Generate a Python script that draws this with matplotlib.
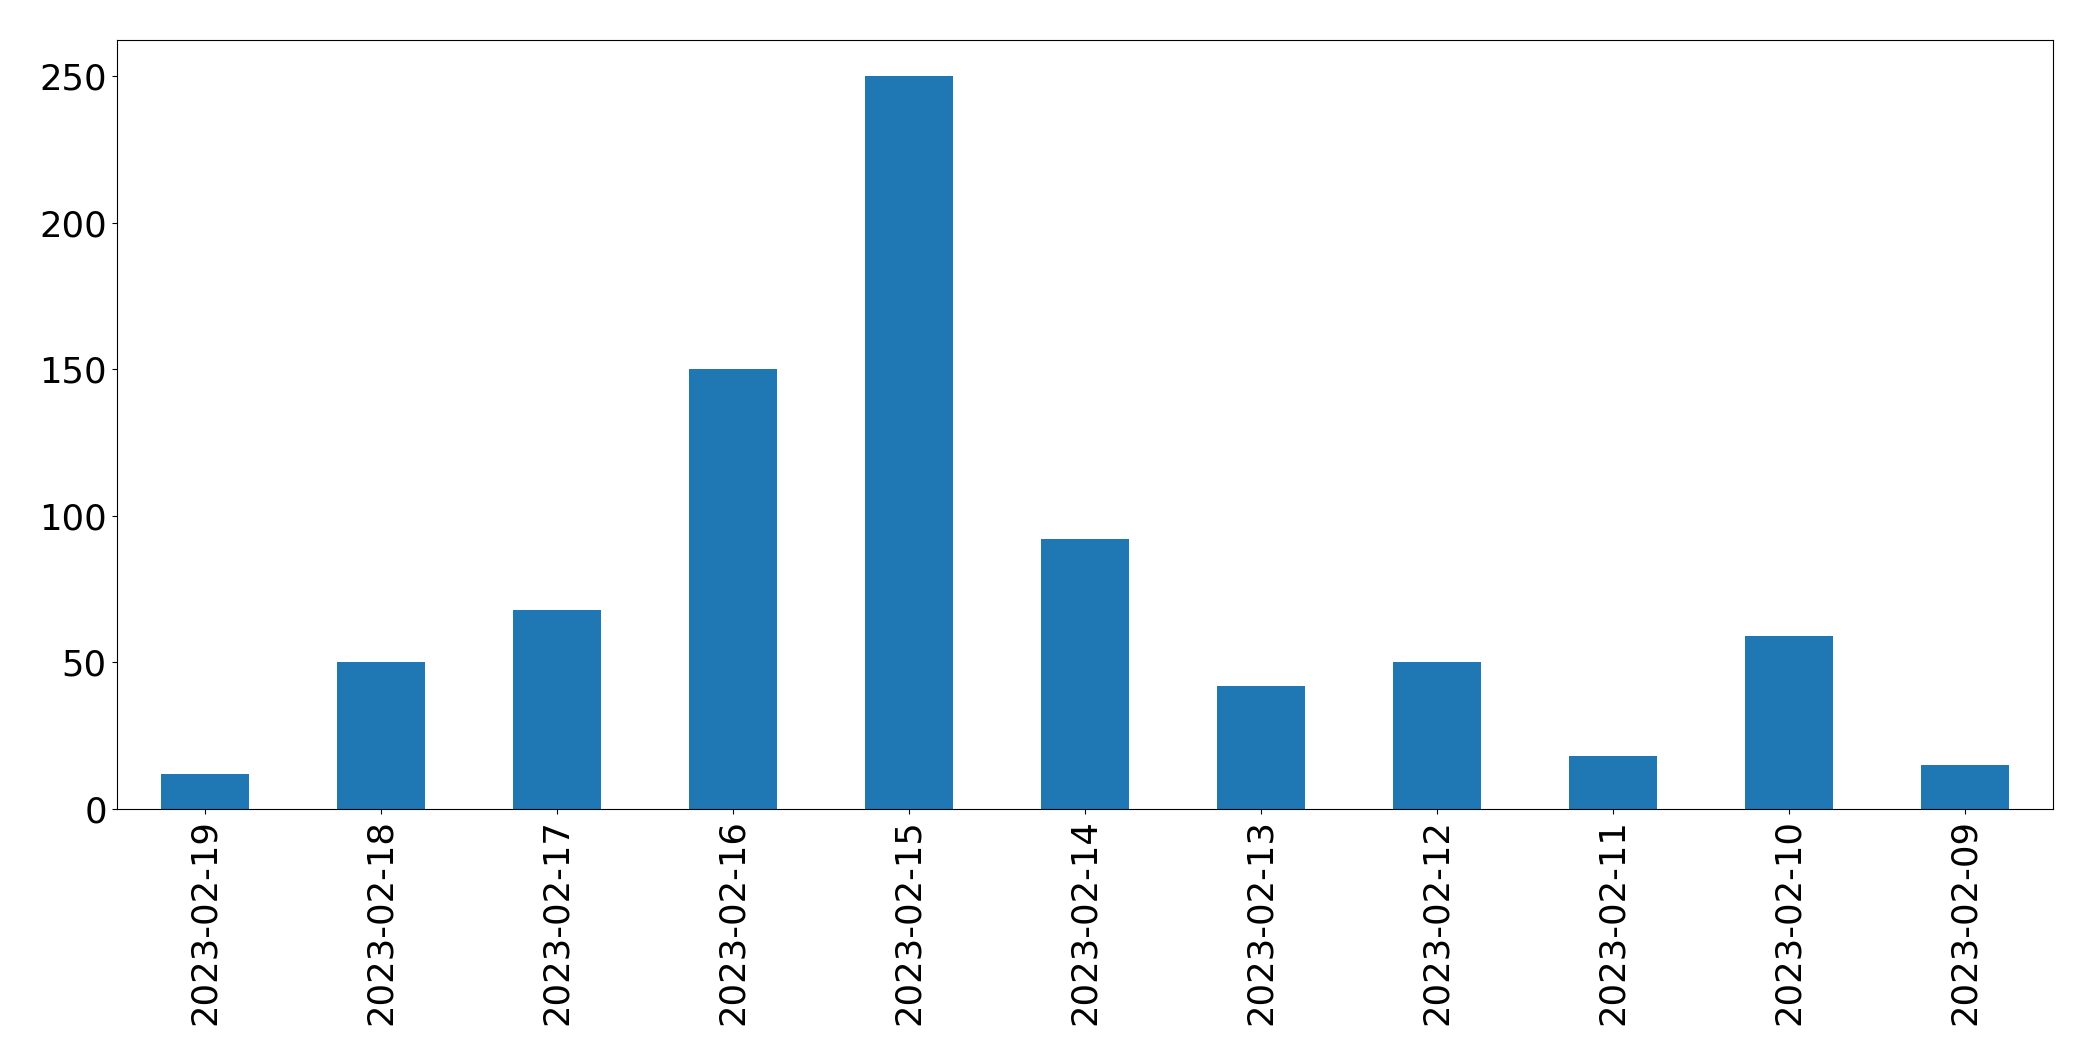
import matplotlib
matplotlib.use('Agg')
import matplotlib.pyplot as plt
import pandas as pd

dates = ['2023-02-19', '2023-02-18', '2023-02-17', '2023-02-16', '2023-02-15', '2023-02-14',
         '2023-02-13', '2023-02-12', '2023-02-11', '2023-02-10', '2023-02-09']
counts = [12, 50, 68, 150, 250, 92, 42, 50, 18, 59, 15]

s = pd.Series(counts, index=dates)

fig, ax = plt.subplots(figsize=(20.93, 10.61), dpi=100)
fig.subplots_adjust(left=116.5 / 2093, right=2053 / 2093, top=1 - 39.5 / 1061, bottom=1 - 809 / 1061)

s.plot(kind='bar', ax=ax, color='#1f77b4')
ax.tick_params(axis='both', labelsize=25.5)
ax.tick_params(axis='x', labelrotation=90)

fig.savefig('out.png', dpi=100)
